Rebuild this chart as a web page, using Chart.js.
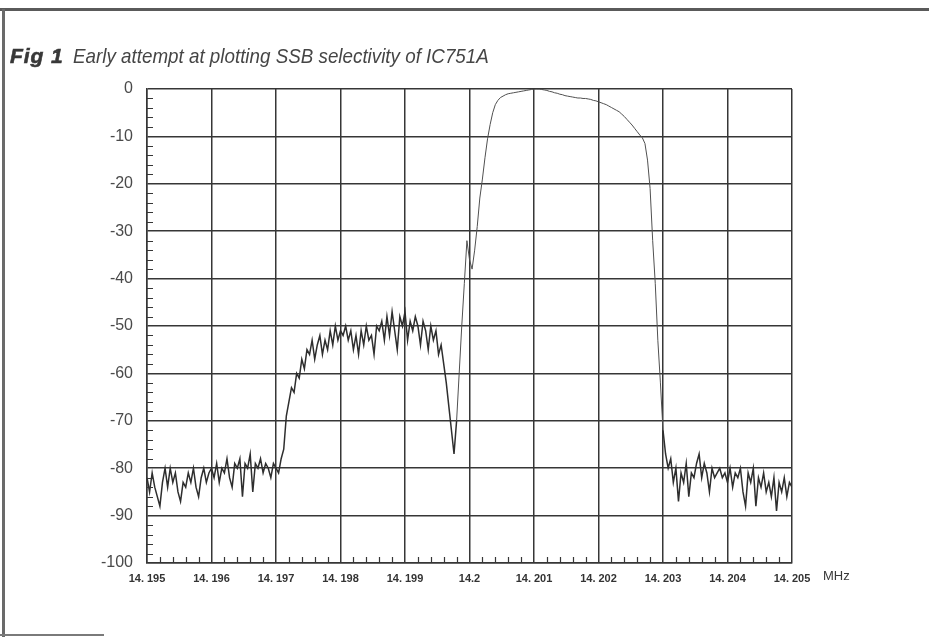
<!DOCTYPE html>
<html>
<head>
<meta charset="utf-8">
<script src="https://cdn.jsdelivr.net/npm/chart.js@4.4.1/dist/chart.umd.min.js"></script>
<style>
  html, body { margin: 0; padding: 0; background: #ffffff; }
  #wrap { position: relative; width: 929px; height: 637px; overflow: hidden; background: #ffffff; }
  #chart { position: absolute; left: 0; top: 0; }
  .frame-top { position: absolute; left: 0; top: 8px; width: 929px; height: 3px; background: #5a5a5a; }
  .frame-left { position: absolute; left: 2px; top: 9px; width: 3px; height: 628px; background: #6a6a6a; }
  .frame-bottom { position: absolute; left: 0; top: 634px; width: 104px; height: 2px; background: #7a7a7a; }
  .title { position: absolute; left: 10px; top: 44px; white-space: nowrap; color: #454545;
           font-family: "Liberation Sans", Arial, sans-serif; font-size: 21px; }
  .title b { font-weight: 900; font-style: italic; color: #383838; letter-spacing: 0.9px;
             -webkit-text-stroke: 0.6px #383838; }
  .title .rest { display: inline-block; font-style: italic; transform: scaleX(0.895); transform-origin: left center;
                 margin-left: 9px; }
</style>
</head>
<body>
<div id="wrap">
  <canvas id="chart" width="929" height="637"></canvas>
  <div class="frame-top"></div>
  <div class="frame-left"></div>
  <div class="frame-bottom"></div>
  <div class="title"><b>Fig 1</b><span class="rest">Early attempt at plotting SSB selectivity of IC751A</span></div>
</div>
<script>
// ---- Data (level in dB, swept every 40 Hz from 14.195 MHz) ----
const startFreqMHz = 14.195;
const stepMHz = 0.00004;

// 14.1950 - 14.1970 : noise floor below the passband
const noiseLeftDb = [
  -82,-85,-81,-84,-86,-88,-83,-80,-84,-80,
  -83,-81,-85,-87,-83,-84,-81,-83,-80,-84,
  -86,-82,-80,-83,-81,-80,-82,-79,-83,-80,
  -81,-78,-82,-84,-79,-80,-78,-86,-79,-80,
  -77,-85,-79,-80,-78,-81,-79,-80,-82,-79
];
// 14.1970 - 14.1975 : rise to the unwanted sideband
const riseDb = [-80,-81,-78,-76,-69,-66,-63,-64,-60,-61,-57,-59,-55];
// 14.1975 - 14.1995 : unwanted sideband plateau
const plateauDb = [
  -56,-53,-57,-54,-52,-56,-53,-55,-51,-54,
  -50,-53,-51,-52,-50,-53,-51,-55,-52,-56,
  -51,-54,-50,-53,-52,-56,-50,-51,-49,-53,
  -48,-52,-47,-51,-55,-48,-50,-47,-53,-49,
  -51,-48,-50,-54,-49,-51,-55,-50,-53,-51,
  -56
];
// 14.1996 - 14.2000 : notch before the passband
const dipDb = [-54,-58,-62,-67,-72,-77,-70,-60,-50,-41,-32,-36,-38];
// 14.2001 - 14.2027 : passband
const passbandDb = [
  -34,-29,-23,-19,-14.5,-10.5,-7.5,-5,-3.3,-2.4,
  -1.8,-1.5,-1.2,-1.0,-0.9,-0.8,-0.7,-0.6,-0.5,-0.4,
  -0.3,-0.2,-0.1,0,0,0,-0.1,-0.2,-0.3,-0.5,
  -0.6,-0.8,-0.9,-1.1,-1.2,-1.4,-1.5,-1.6,-1.7,-1.8,
  -1.9,-1.9,-2.0,-2.0,-2.1,-2.2,-2.4,-2.5,-2.7,-2.9,
  -3.1,-3.3,-3.6,-3.9,-4.2,-4.5,-4.8,-5.3,-5.8,-6.4,
  -7.0,-7.6,-8.3,-9.0,-9.7,-10.3,-11.5
];
// 14.2028 - 14.2030 : upper skirt
const edgeDb = [-15,-21,-32,-41,-53,-62,-72];
// 14.2030 - 14.2050 : noise floor above the passband
const noiseRightDb = [
  -77,-80,-78,-83,-80,-87,-81,-83,-79,-86,
  -81,-82,-79,-77,-82,-79,-81,-85,-80,-82,
  -81,-80,-82,-81,-83,-80,-84,-81,-82,-80,
  -85,-88,-81,-83,-80,-88,-82,-84,-81,-85,
  -83,-86,-82,-89,-83,-85,-82,-86,-83,-84
];

const xTickValues = [14.195, 14.196, 14.197, 14.198, 14.199, 14.2, 14.201, 14.202, 14.203, 14.204, 14.205];
const xTickLabels = ['14. 195','14. 196','14. 197','14. 198','14. 199','14.2','14. 201','14. 202','14. 203','14. 204','14. 205'];
const yTickValues = [0, -10, -20, -30, -40, -50, -60, -70, -80, -90, -100];
const yTickLabels = ['0','-10','-20','-30','-40','-50','-60','-70','-80','-90','-100'];
const xUnitLabel = 'MHz';

// ---- build series ----
const levelsDb = [].concat(noiseLeftDb, riseDb, plateauDb, dipDb, passbandDb, edgeDb, noiseRightDb);
const points = levelsDb.map((v, i) => ({ x: +(startFreqMHz + i * stepMHz).toFixed(5), y: v }));
// the noisy (measured) stretches print heavier than the smooth passband
const noisyEnd = noiseLeftDb.length + riseDb.length + plateauDb.length + 6;
const noisyStart = levelsDb.length - noiseRightDb.length - 1;
const isNoisy = i => i < noisyEnd || i >= noisyStart;

const GRID = '#363636';

const minorTicks = {
  id: 'minorTicks',
  afterDraw(chart) {
    const { ctx, chartArea: a, scales: { x, y } } = chart;
    ctx.save();
    ctx.strokeStyle = GRID;
    ctx.lineWidth = 1.2;
    ctx.beginPath();
    for (let d = -2; d > -100; d -= 2) {
      if (d % 10 === 0) continue;
      const py = Math.round(y.getPixelForValue(d)) + 0.5;
      ctx.moveTo(a.left, py); ctx.lineTo(a.left + 6, py);
    }
    for (let k = 1; k < 50; k++) {
      if (k % 5 === 0) continue;
      const px = Math.round(x.getPixelForValue(14.195 + k * 0.0002)) + 0.5;
      ctx.moveTo(px, a.bottom); ctx.lineTo(px, a.bottom - 6);
    }
    ctx.stroke();
    ctx.fillStyle = '#3a3a3a';
    ctx.font = '13px "Liberation Sans", Arial, sans-serif';
    ctx.textBaseline = 'middle';
    ctx.textAlign = 'left';
    ctx.fillText(xUnitLabel, a.right + 31, a.bottom + 13);
    ctx.restore();
  }
};

new Chart(document.getElementById('chart'), {
  type: 'line',
  data: {
    datasets: [{
      data: points,
      borderColor: '#3b3b3b',
      borderWidth: 1.1,
      pointRadius: 0,
      tension: 0,
      fill: false,
      segment: {
        borderWidth: c => isNoisy(c.p0DataIndex) ? 1.5 : 1.0,
        borderColor: c => isNoisy(c.p0DataIndex) ? '#2e2e2e' : '#505050'
      }
    }]
  },
  options: {
    responsive: false,
    animation: false,
    events: [],
    layout: { padding: { top: 89, right: 137, left: 0, bottom: 0 } },
    plugins: { legend: { display: false }, tooltip: { enabled: false }, title: { display: false } },
    scales: {
      x: {
        type: 'linear',
        min: 14.195,
        max: 14.205,
        afterBuildTicks: s => { s.ticks = xTickValues.map(v => ({ value: v })); },
        afterFit: s => { s.height = 74; },
        ticks: {
          autoSkip: false,
          maxRotation: 0,
          padding: 9,
          color: '#333333',
          font: { family: '"Liberation Sans", Arial, sans-serif', size: 11, weight: 'bold' },
          callback: v => xTickLabels[xTickValues.indexOf(v)]
        },
        grid: { color: GRID, lineWidth: 1.5, drawTicks: false },
        border: { color: GRID, width: 1.5 }
      },
      y: {
        min: -100,
        max: 0,
        afterBuildTicks: s => { s.ticks = yTickValues.slice().reverse().map(v => ({ value: v })); },
        afterFit: s => { s.width = 147; },
        ticks: {
          padding: 14,
          color: '#4a4a4a',
          font: { family: '"Liberation Sans", Arial, sans-serif', size: 16 },
          callback: v => yTickLabels[yTickValues.indexOf(v)]
        },
        grid: { color: GRID, lineWidth: 1.5, drawTicks: false },
        border: { color: GRID, width: 1.5 }
      }
    }
  },
  plugins: [minorTicks]
});
</script>
</body>
</html>
